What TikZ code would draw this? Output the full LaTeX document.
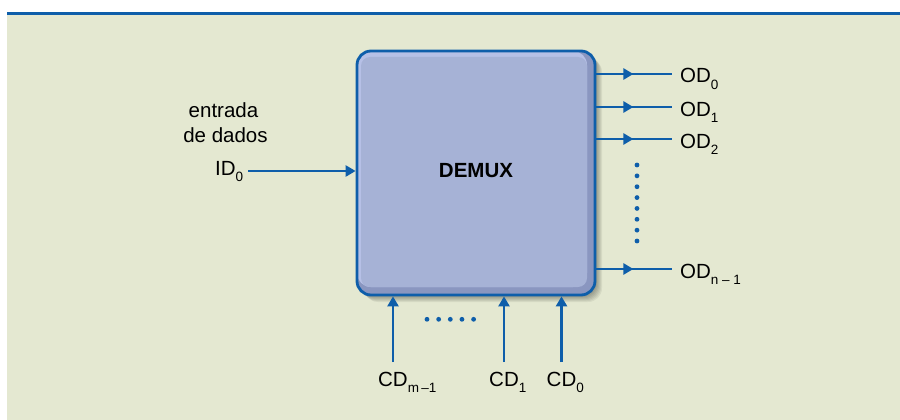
\documentclass[tikz,border=0pt]{standalone}
\usepackage{fontspec}
\setmainfont{Liberation Sans}
\usetikzlibrary{arrows.meta,positioning}
\definecolor{panelBeige}{RGB}{228,232,209}
\definecolor{lineBlue}{RGB}{14,94,170}
\definecolor{boxFace}{RGB}{166,178,214}
\definecolor{boxDark}{RGB}{138,150,192}
\definecolor{boxLight}{RGB}{182,192,230}
\newcommand{\idx}[1]{\rlap{\smash{\raisebox{-6pt}{\fontsize{13.5}{14}\selectfont #1}}}}

\tikzset{
  sig/.style={draw=lineBlue,line width=2.6pt},
  tip/.style={-{Triangle[length=10pt,width=11pt]}},
  lbl/.style={inner sep=0pt,font=\fontsize{20.5}{24}\selectfont},
  demuxbox/.style={draw=lineBlue,line width=2.8pt,rounded corners=14pt,fill=boxFace,
    minimum width=238pt,minimum height=244pt,inner sep=0pt,text depth=5pt,
    font=\fontsize{20.5}{24}\selectfont\bfseries,
    path picture={
      \fill[boxDark] (path picture bounding box.north west) rectangle (path picture bounding box.south east);
      \fill[boxLight] (path picture bounding box.north west) rectangle ([shift={(-8pt,8pt)}]path picture bounding box.south east);
      \fill[boxFace,rounded corners=9pt] ([shift={(4pt,-6pt)}]path picture bounding box.north west) rectangle ([shift={(-8pt,8pt)}]path picture bounding box.south east);
    }},
  dot/.style={fill=lineBlue}
}

\begin{document}
\begin{tikzpicture}[x=1pt,y=-1pt]
\useasboundingbox (0,0) rectangle (900,420);
% panel
\fill[white] (0,0) rectangle (900,420);
\fill[panelBeige] (7,14.5) rectangle (900,420);
\draw[lineBlue,line width=2.5pt] (7,13.5) -- (900,13.5);

% soft shadow of the block
\foreach \o in {1,...,7}
  \fill[black,opacity=0.06,rounded corners=14pt] (357+\o,51+\o) rectangle (595+\o,295+\o);

\node[demuxbox] (demux) at (476,173) {DEMUX};

% data input
\node[lbl,anchor=base] (lin1) at (223.5,117.7) {entrada};
\node[lbl,anchor=base] (lin2) at (225.5,142) {de dados};
\node[lbl,anchor=base west] (lid0) at (215,175.5) {ID\idx{0}};
\coordinate (id0) at (248,171);
\draw[sig,tip] (id0) -- (id0 -| demux.west);

% data outputs
\foreach \y/\s/\n in {74/0/od0,107/1/od1,139/2/od2,269/{n – 1}/odn}{
  \coordinate (\n) at (672,\y);
  \draw[sig] (\n -| demux.east) -- (\n);
  \draw[sig,tip] (\n -| demux.east) -- ++(37,0);
  \node[lbl,anchor=base west] (l\n) at (680,\y+9) {OD\idx{\s}};
}
\foreach \k in {0,...,7}
  \fill[dot] (637,165+\k*10.86) circle (2.4pt);

% control inputs
\foreach \x/\s/\n in {393/{m\,–1}/cdm,504/1/cd1,561.5/0/cd0}{
  \coordinate (\n) at (\x,362);
  \draw[sig,tip] (\n) -- (\n |- demux.south);
  \node[lbl,anchor=base] (l\n) at (\x,386.7) {CD\idx{\s}};
}
\foreach \k in {0,...,4}
  \fill[dot] (427+\k*11.65,319.3) circle (2.4pt);
\end{tikzpicture}
\end{document}
